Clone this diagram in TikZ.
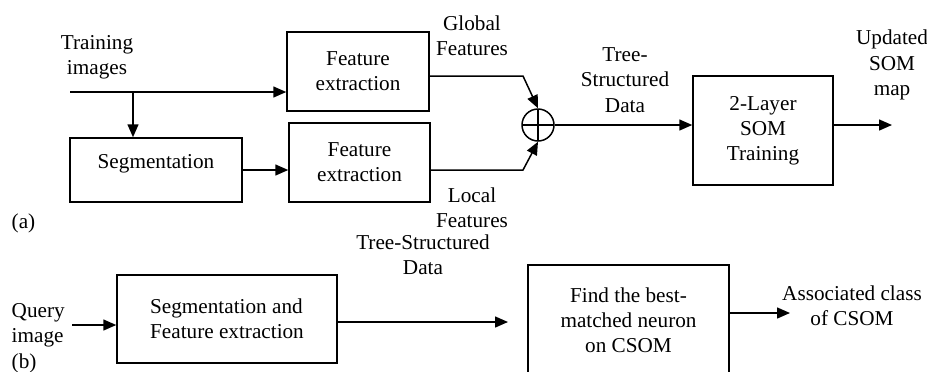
\documentclass[tikz,border=0pt]{standalone}
\usepackage{fontspec}
\setmainfont{Liberation Serif}
\usetikzlibrary{arrows.meta}

\begin{document}
\begin{tikzpicture}[x=0.5pt, y=-0.5pt, line width=0.75pt,
	font=\fontsize{10.6}{12.6}\selectfont,
	blk/.style={draw, align=center, inner sep=0pt},
	lbl/.style={align=center, inner sep=0pt},
	arr/.style={-{Triangle[length=6.5pt, width=5.5pt]}}]
	\clip (0,0) rectangle (927,371);
	% (a) training
	\node[blk, minimum width=71pt, minimum height=39.5pt] (fe1) at (358,71.5) {Feature\\extraction};
	\node[blk, minimum width=70.5pt, minimum height=39.5pt] (fe2) at (359.5,162.5) {Feature\\extraction};
	\node[blk, minimum width=86pt, minimum height=32pt, text depth=9pt] (seg) at (156,170) {Segmentation};
	\node[draw, circle, minimum size=16pt, inner sep=0pt,
		path picture={\draw (path picture bounding box.north) -- (path picture bounding box.south)
			(path picture bounding box.west) -- (path picture bounding box.east);}] (sum) at (538,125) {};
	\node[blk, minimum width=70pt, minimum height=54.5pt] (som) at (763,130.5) {2-Layer\\SOM\\Training};
	\coordinate (in) at (70,92);
	\coordinate (br) at (133,92);
	\coordinate (g) at (523,76);
	\coordinate (l) at (523,170);
	\coordinate (out) at (892,125);
	\draw[arr] (in) -- (in -| fe1.west);
	\draw[arr] (br) -- (br |- seg.north);
	\draw[arr] (seg.east |- l) -- (fe2.west |- l);
	\draw[arr] (fe1.east |- g) -- (g) -- (sum.north);
	\draw[arr] (fe2.east |- l) -- (l) -- (sum.south);
	\draw[arr] (sum) -- (sum -| som.west);
	\draw[arr] (som.east |- out) -- (out);
	\node[lbl] (tin) at (97,57) {Training\\images};
	\node[lbl] (glob) at (472,36) {Global\\Features};
	\node[lbl] (loc) at (472,208) {Local\\Features};
	\node[lbl] (tsd) at (625,80) {Tree-\\Structured\\Data};
	\node[lbl] (upd) at (892,65) {Updated\\SOM\\map};
	\node[lbl, anchor=west] (la) at (11,223) {(a)};
	% (b) query
	\node[blk, minimum width=110pt, minimum height=44pt, align=left] (sfe) at (227,319) {Segmentation and\\Feature extraction};
	\node[blk, minimum width=100.5pt, minimum height=55pt] (find) at (628.5,320) {Find the best-\\matched neuron\\on CSOM};
	\node[lbl, align=left, anchor=west] (qry) at (11,325) {Query\\image};
	\node[lbl, anchor=west] (lb) at (11,363) {(b)};
	\node[lbl] (tsd2) at (423,255) {Tree-Structured\\Data};
	\node[lbl] (cls) at (852,306) {Associated class\\of CSOM};
	\coordinate (q) at (72,325);
	\coordinate (c) at (790,313);
	\draw[arr] (q) -- (q -| sfe.west);
	\draw[arr] (sfe.east |- 0,322) -- (508,322);
	\draw[arr] (find.east |- c) -- (c);
\end{tikzpicture}
\end{document}
